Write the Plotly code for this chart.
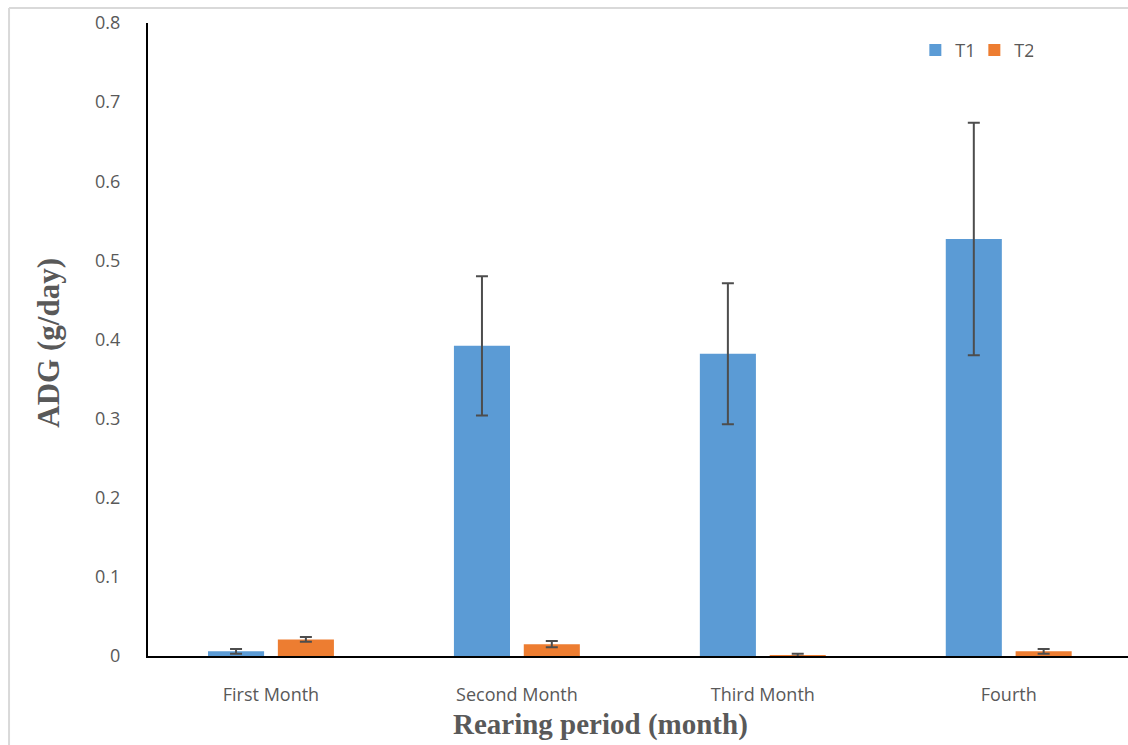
import plotly.graph_objects as go

# Average daily gain per rearing month, two treatments
months = ["First Month", "Second Month", "Third Month", "Fourth"]
t1_adg = [0.006, 0.392, 0.382, 0.527]
t1_err = [0.003, 0.088, 0.089, 0.147]
t2_adg = [0.021, 0.015, 0.001, 0.006]
t2_err = [0.003, 0.004, 0.002, 0.003]
y_ticks = [0, 0.1, 0.2, 0.3, 0.4, 0.5, 0.6, 0.7, 0.8]
y_tick_text = ["0", "0.1", "0.2", "0.3", "0.4", "0.5", "0.6", "0.7", "0.8"]

BLUE = "#5B9BD5"
ORANGE = "#ED7D31"
GREY = "#595959"
ERR = "#4D4D4D"
SANS = "Open Sans, Lato, sans-serif"
SERIF = "Liberation Serif, Times New Roman, serif"

bar_w = 0.228

fig = go.Figure()
fig.add_trace(go.Bar(
    name="T1", x=months, y=t1_adg, width=bar_w, offset=-0.256,
    marker=dict(color=BLUE, line=dict(width=0)),
    error_y=dict(type="data", array=t1_err, color=ERR, thickness=2, width=6),
))
fig.add_trace(go.Bar(
    name="T2", x=months, y=t2_adg, width=bar_w, offset=0.028,
    marker=dict(color=ORANGE, line=dict(width=0)),
    error_y=dict(type="data", array=t2_err, color=ERR, thickness=2, width=6),
))

# thin light-grey frame along the top and left edges of the chart
frame = dict(color="#D9D9D9", width=2)

fig.update_layout(
    width=1128, height=745,
    margin=dict(l=148, r=0, t=23, b=89),
    paper_bgcolor="white", plot_bgcolor="white",
    barmode="overlay",
    font=dict(family=SANS, size=18, color=GREY),
    showlegend=True,
    legend=dict(orientation="h", x=0.783, y=0.957, xanchor="left", yanchor="middle",
                font=dict(family=SANS, size=18, color=GREY), itemwidth=30,
                entrywidth=14, tracegroupgap=0, bgcolor="rgba(0,0,0,0)"),
    xaxis=dict(range=[-0.5, 3.485], showgrid=False, zeroline=False,
               showline=True, linecolor="black", linewidth=2,
               ticks="", ticklabelstandoff=21, tickfont=dict(family=SANS, size=18, color=GREY)),
    yaxis=dict(range=[0, 0.8], tickvals=y_ticks, ticktext=y_tick_text,
               showgrid=False, zeroline=False, showline=True, linecolor="black",
               linewidth=2, ticks="", ticklabelstandoff=22,
               tickfont=dict(family=SANS, size=18, color=GREY)),
    annotations=[
        dict(text="<b>ADG (g/day)</b>", xref="paper", yref="paper",
             x=-0.101, y=0.495, xanchor="center", yanchor="middle",
             textangle=-90, showarrow=False,
             font=dict(family=SERIF, size=31, color=GREY)),
        dict(text="<b>Rearing period (month)</b>", xref="paper", yref="paper",
             x=0.462, y=-0.109, xanchor="center", yanchor="middle", showarrow=False,
             font=dict(family=SERIF, size=29, color=GREY)),
    ],
    shapes=[
        dict(type="line", xref="paper", yref="paper",
             x0=-0.1418, x1=1.1, y0=1.0235, y1=1.0235, line=frame),
        dict(type="line", xref="paper", yref="paper",
             x0=-0.1418, x1=-0.1418, y0=-0.2, y1=1.0235, line=frame),
    ],
)

fig.write_html("out.html")
